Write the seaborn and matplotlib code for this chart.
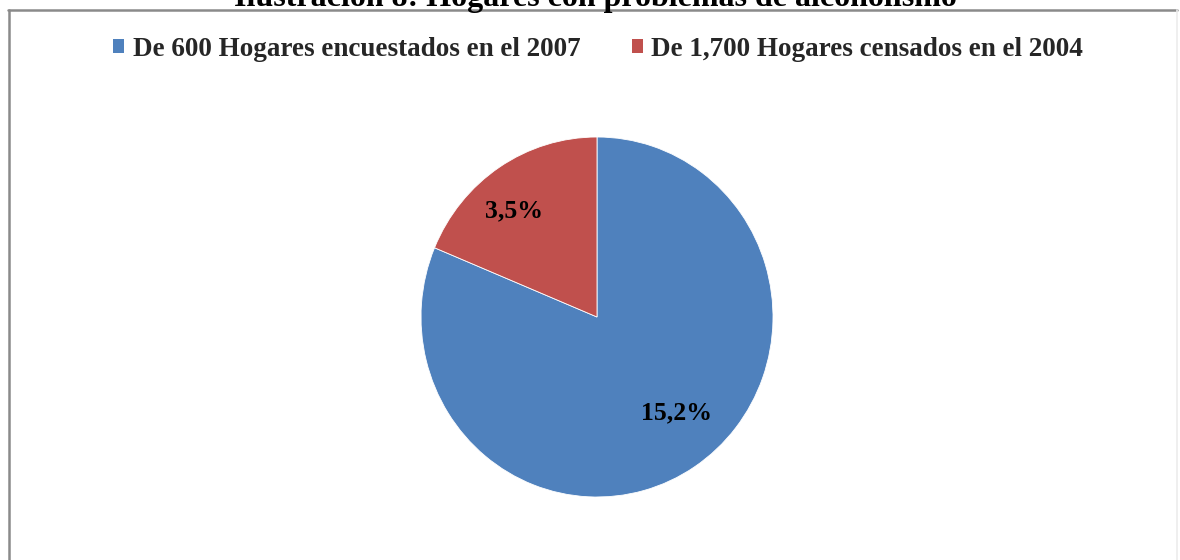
import matplotlib
matplotlib.use("Agg")
import numpy as np
import matplotlib.pyplot as plt
import seaborn as sns
from matplotlib.patches import Rectangle
from matplotlib.lines import Line2D

sns.set_theme(style="white")
plt.rcParams['font.family'] = ['Liberation Serif', 'DejaVu Serif']

categories = ["De 600 Hogares encuestados en el 2007", "De 1,700 Hogares censados en el 2004"]
values = [15.2, 3.5]
labels = ["15,2%", "3,5%"]
title = "Ilustración 8: Hogares con problemas de alcoholismo"

colors = ["#4F81BD", "#C0504D"]

W, H = 1180, 560
fig = plt.figure(figsize=(W / 100, H / 100), dpi=100)
fig.patch.set_facecolor("white")

# chart border (top and left grey, right very faint)
fig.add_artist(Line2D([8 / W, 1177 / W], [1 - 10 / H, 1 - 10 / H], transform=fig.transFigure,
                      color="#8a8a8a", linewidth=1.8))
fig.add_artist(Line2D([8.5 / W, 8.5 / W], [0, 1 - 10 / H], transform=fig.transFigure,
                      color="#8a8a8a", linewidth=1.8))
fig.add_artist(Line2D([1176.5 / W, 1176.5 / W], [0, 1 - 10 / H], transform=fig.transFigure,
                      color="#ececec", linewidth=1.2))

# title (partially cut at top, as in reference)
fig.text(595 / W, 1 - 6 / H, title, ha="center", va="baseline",
         fontsize=23, fontweight="bold", color="black")

cx, cy, rx, ry = 597, 317, 176, 180
half = 215
ax = fig.add_axes([(cx - half) / W, (H - cy - half) / H, 2 * half / W, 2 * half / H])
wedges, texts = ax.pie(values, colors=colors, startangle=90, counterclock=False,
                       wedgeprops=dict(edgecolor="white", linewidth=0.6))
ax.set_xlim(-half / rx, half / rx)
ax.set_ylim(-half / ry, half / ry)
ax.set_aspect("auto")
ax.axis("off")

dists = [0.70, 0.755]
ang_off = [6.7, 4.8]
for w, lab, d, off in zip(wedges, labels, dists, ang_off):
    theta = np.deg2rad((w.theta1 + w.theta2) / 2 + off)
    ax.text(d * np.cos(theta), d * np.sin(theta), lab, ha="center", va="center",
            fontsize=18.5, fontweight="bold", color="black")

handles = [Rectangle((0, 0), 1, 1, facecolor=c, edgecolor="none") for c in colors]
fig.legend(handles, categories, loc="center", bbox_to_anchor=(598 / W, 1 - 49 / H),
           ncol=2, frameon=False,
           prop=dict(weight="bold", size=19.5),
           handlelength=0.42, handleheight=0.42, handletextpad=0.3,
           columnspacing=1.9)

fig.savefig("out.png", dpi=100, facecolor="white")
